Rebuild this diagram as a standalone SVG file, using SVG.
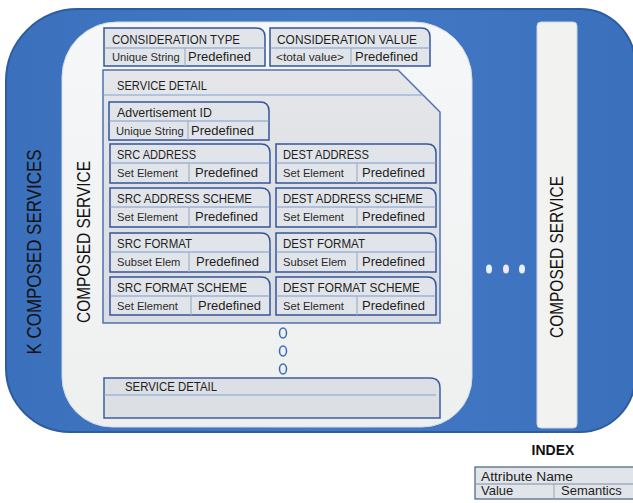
<svg xmlns="http://www.w3.org/2000/svg" width="633" height="503" viewBox="0 0 633 503">
<defs>
<linearGradient id="blueG" x1="0" y1="0" x2="1" y2="0">
<stop offset="0" stop-color="#3b70bd"/>
<stop offset="0.5" stop-color="#4379c4"/>
<stop offset="1" stop-color="#3b70bd"/>
</linearGradient>
<linearGradient id="panelG" x1="0" y1="0" x2="0" y2="1">
<stop offset="0" stop-color="#f6f7f8"/>
<stop offset="1" stop-color="#eeefef"/>
</linearGradient>
<linearGradient id="sdG" x1="0" y1="0" x2="0" y2="1">
<stop offset="0" stop-color="#e4e6e9"/>
<stop offset="1" stop-color="#d9dce0"/>
</linearGradient>
<style>
.box{fill:#e1e5ea;stroke:#34569a;stroke-width:1.5}
.row{stroke:#7d9bcb;stroke-width:1.2}
.col{stroke:#9fb0c6;stroke-width:1.2}
.h{font-family:"Liberation Sans",Arial,sans-serif;font-size:13px;fill:#1e1e1e}
.s{font-family:"Liberation Sans",Arial,sans-serif;font-size:11.2px;fill:#2a2a2a}
.p{font-family:"Liberation Sans",Arial,sans-serif;font-size:13px;fill:#1e1e1e}
.v{font-family:"Liberation Sans",Arial,sans-serif;fill:#111;text-anchor:middle}
.o{fill:none;stroke:#3a6bb5;stroke-width:1.5}
</style>
</defs>

<g id="k-composed-services">
<path d="M78,9 H580 A55,55 0 0 1 635,64 V377 A55,55 0 0 1 580,432 H70 A64,64 0 0 1 6,368 V81 A72,72 0 0 1 78,9 Z" fill="url(#blueG)" stroke="#2d5c9f" stroke-width="2"/>
<text class="v" font-size="19.5" textLength="205" lengthAdjust="spacingAndGlyphs" transform="translate(41,252) rotate(-90)">K COMPOSED SERVICES</text>
</g>

<g id="composed-service-1">
<path d="M117,22 H414 A58,58 0 0 1 472,80 V377 A50,50 0 0 1 422,427 H112 A50,50 0 0 1 62,377 V77 A55,55 0 0 1 117,22 Z" fill="url(#panelG)" stroke="#d3dbe6" stroke-width="1"/>
<text class="v" font-size="17.5" textLength="162" lengthAdjust="spacingAndGlyphs" transform="translate(90,242) rotate(-90)">COMPOSED SERVICE</text>
</g>

<g id="composed-service-2">
<rect x="537" y="22" width="40" height="406" rx="4" fill="#f2f2f0" stroke="#cdd5df" stroke-width="1"/>
<text class="v" font-size="17.5" textLength="162" lengthAdjust="spacingAndGlyphs" transform="translate(563,257) rotate(-90)">COMPOSED SERVICE</text>
</g>

<g id="more-services">
<ellipse cx="489" cy="269" rx="3" ry="4.5" fill="#e9f0f8"/>
<ellipse cx="506" cy="269" rx="3" ry="4.5" fill="#efe6ee"/>
<ellipse cx="522" cy="269" rx="3" ry="4.5" fill="#e9f0f8"/>
</g>

<g id="consideration-type">
<path class="box" d="M104,28 H256 Q265,28 265,37 V66 H104 Z"/>
<line class="row" x1="104" y1="48" x2="265" y2="48"/>
<line class="col" x1="185" y1="48" x2="185" y2="66"/>
<text class="h" x="112" y="44" textLength="128" lengthAdjust="spacingAndGlyphs">CONSIDERATION TYPE</text>
<text class="s" x="112" y="61">Unique String</text>
<text class="p" x="188" y="61">Predefined</text>
</g>

<g id="consideration-value">
<path class="box" d="M270,28 H421 Q430,28 430,37 V66 H270 Z"/>
<line class="row" x1="270" y1="48" x2="430" y2="48"/>
<line class="col" x1="351" y1="48" x2="351" y2="66"/>
<text class="h" x="277" y="44" textLength="140" lengthAdjust="spacingAndGlyphs">CONSIDERATION VALUE</text>
<text class="s" x="276" y="61" textLength="68" lengthAdjust="spacingAndGlyphs">&lt;total value&gt;</text>
<text class="p" x="355" y="61">Predefined</text>
</g>

<g id="service-detail-1">
<path d="M103,70 H398 L440,112 V323 H103 Z" fill="url(#sdG)" stroke="#4f73b0" stroke-width="1.5"/>
<line x1="103" y1="95" x2="423" y2="95" stroke="#7fa3d6" stroke-width="1.2"/>
<text class="h" x="117" y="90" textLength="90" lengthAdjust="spacingAndGlyphs">SERVICE DETAIL</text>
</g>

<g id="advertisement-id">
<path class="box" d="M109,102 H260 Q269,102 269,111 V140 H109 Z"/>
<line class="row" x1="109" y1="121" x2="269" y2="121"/>
<line class="col" x1="188" y1="121" x2="188" y2="140"/>
<text class="h" x="117" y="117" textLength="95" lengthAdjust="spacingAndGlyphs">Advertisement ID</text>
<text class="s" x="116" y="135">Unique String</text>
<text class="p" x="191" y="135">Predefined</text>
</g>

<g id="src-address">
<path class="box" d="M110,144 H261 Q270,144 270,153 V183 H110 Z"/>
<line class="row" x1="110" y1="163" x2="270" y2="163"/>
<line class="col" x1="189" y1="163" x2="189" y2="183"/>
<text class="h" x="117" y="159" textLength="79" lengthAdjust="spacingAndGlyphs">SRC ADDRESS</text>
<text class="s" x="117" y="177">Set Element</text>
<text class="p" x="195" y="177">Predefined</text>
</g>

<g id="dest-address">
<path class="box" d="M276,144 H427 Q436,144 436,153 V183 H276 Z"/>
<line class="row" x1="276" y1="163" x2="436" y2="163"/>
<line class="col" x1="357" y1="163" x2="357" y2="183"/>
<text class="h" x="283" y="159" textLength="86" lengthAdjust="spacingAndGlyphs">DEST ADDRESS</text>
<text class="s" x="283" y="177">Set Element</text>
<text class="p" x="362" y="177">Predefined</text>
</g>

<g id="src-address-scheme">
<path class="box" d="M110,188 H261 Q270,188 270,197 V227 H110 Z"/>
<line class="row" x1="110" y1="207" x2="270" y2="207"/>
<line class="col" x1="189" y1="207" x2="189" y2="227"/>
<text class="h" x="117" y="203" textLength="135" lengthAdjust="spacingAndGlyphs">SRC ADDRESS SCHEME</text>
<text class="s" x="117" y="221">Set Element</text>
<text class="p" x="195" y="221">Predefined</text>
</g>

<g id="dest-address-scheme">
<path class="box" d="M276,188 H427 Q436,188 436,197 V227 H276 Z"/>
<line class="row" x1="276" y1="207" x2="436" y2="207"/>
<line class="col" x1="357" y1="207" x2="357" y2="227"/>
<text class="h" x="283" y="203" textLength="140" lengthAdjust="spacingAndGlyphs">DEST ADDRESS SCHEME</text>
<text class="s" x="283" y="221">Set Element</text>
<text class="p" x="362" y="221">Predefined</text>
</g>

<g id="src-format">
<path class="box" d="M110,233 H261 Q270,233 270,242 V272 H110 Z"/>
<line class="row" x1="110" y1="252" x2="270" y2="252"/>
<line class="col" x1="189" y1="252" x2="189" y2="272"/>
<text class="h" x="117" y="248" textLength="75" lengthAdjust="spacingAndGlyphs">SRC FORMAT</text>
<text class="s" x="117" y="266">Subset Elem</text>
<text class="p" x="196" y="266">Predefined</text>
</g>

<g id="dest-format">
<path class="box" d="M276,233 H427 Q436,233 436,242 V272 H276 Z"/>
<line class="row" x1="276" y1="252" x2="436" y2="252"/>
<line class="col" x1="357" y1="252" x2="357" y2="272"/>
<text class="h" x="283" y="248" textLength="82" lengthAdjust="spacingAndGlyphs">DEST FORMAT</text>
<text class="s" x="283" y="266">Subset Elem</text>
<text class="p" x="362" y="266">Predefined</text>
</g>

<g id="src-format-scheme">
<path class="box" d="M110,277 H261 Q270,277 270,286 V315 H110 Z"/>
<line class="row" x1="110" y1="296" x2="270" y2="296"/>
<line class="col" x1="191" y1="296" x2="191" y2="315"/>
<text class="h" x="117" y="292" textLength="130" lengthAdjust="spacingAndGlyphs">SRC FORMAT SCHEME</text>
<text class="s" x="117" y="310">Set Element</text>
<text class="p" x="198" y="310">Predefined</text>
</g>

<g id="dest-format-scheme">
<path class="box" d="M276,277 H427 Q436,277 436,286 V315 H276 Z"/>
<line class="row" x1="276" y1="296" x2="436" y2="296"/>
<line class="col" x1="357" y1="296" x2="357" y2="315"/>
<text class="h" x="283" y="292" textLength="137" lengthAdjust="spacingAndGlyphs">DEST FORMAT SCHEME</text>
<text class="s" x="283" y="310">Set Element</text>
<text class="p" x="362" y="310">Predefined</text>
</g>

<g id="more-details">
<ellipse class="o" cx="283" cy="333" rx="3.5" ry="5"/>
<ellipse class="o" cx="283" cy="351" rx="3.5" ry="5"/>
<ellipse class="o" cx="283" cy="369" rx="3.5" ry="5"/>
</g>

<g id="service-detail-n">
<path d="M104,378 H430 Q440,378 440,388 V418 H104 Z" fill="#dcdfe3" stroke="#3d5f9e" stroke-width="1.5"/>
<line x1="104" y1="395" x2="436" y2="395" stroke="#7fa3d6" stroke-width="1.2"/>
<text class="h" x="125" y="391" textLength="92" lengthAdjust="spacingAndGlyphs">SERVICE DETAIL</text>
</g>

<g id="index">
<text x="553" y="455" text-anchor="middle" font-family="'Liberation Sans',Arial,sans-serif" font-size="14" font-weight="bold" fill="#111">INDEX</text>
<rect x="475" y="467" width="170" height="32" fill="#e1e4e8" stroke="#4a5f80" stroke-width="1.2"/>
<line x1="475" y1="484" x2="633" y2="484" stroke="#7d8fa8" stroke-width="1"/>
<line x1="554" y1="484" x2="554" y2="499" stroke="#9aa6b6" stroke-width="1"/>
<text class="p" x="481" y="481" textLength="92" lengthAdjust="spacingAndGlyphs">Attribute Name</text>
<text class="p" x="481" y="495">Value</text>
<text class="p" x="561" y="495">Semantics</text>
</g>
</svg>
